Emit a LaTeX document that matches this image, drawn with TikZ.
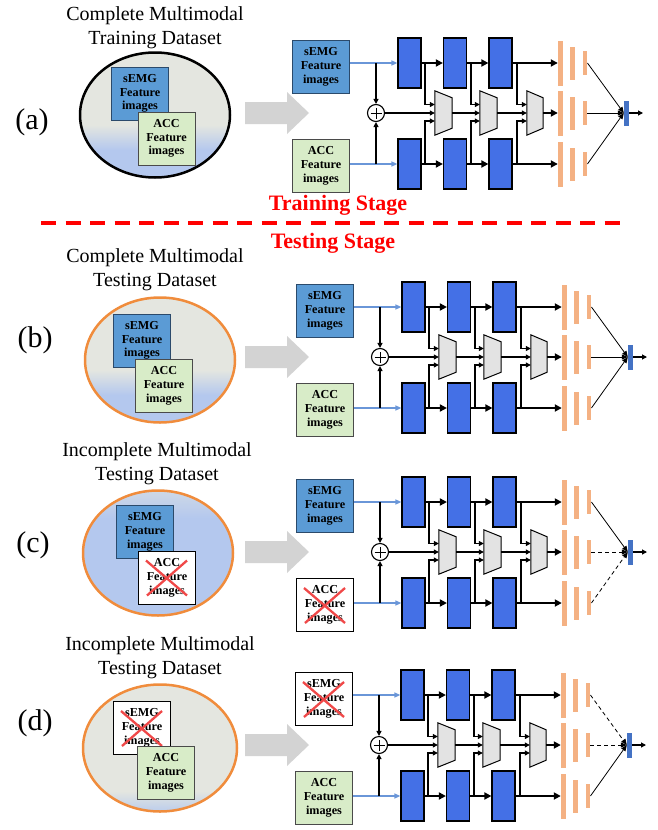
\documentclass[tikz,border=0pt]{standalone}
\usepackage{fontspec}
\setmainfont{Liberation Serif}
\usetikzlibrary{arrows.meta,shapes.geometric}
\definecolor{semgblue}{HTML}{5B9BD5}
\definecolor{semgedge}{HTML}{2B4A6B}
\definecolor{accgreen}{HTML}{D8ECC8}
\definecolor{accedge}{HTML}{4A4A4A}
\definecolor{blockblue}{HTML}{4470E6}
\definecolor{trapgray}{HTML}{E3E3E3}
\definecolor{barorange}{HTML}{F4B183}
\definecolor{finalblue}{HTML}{4472C4}
\definecolor{linkblue}{HTML}{6A96D8}
\definecolor{ellgray}{HTML}{E4E6E0}
\definecolor{ellblue}{HTML}{B4C8EE}
\definecolor{ellorange}{HTML}{F08C3C}
\definecolor{crossred}{HTML}{F04848}
\definecolor{arrowgray}{HTML}{D3D3D3}
\pgfdeclareverticalshading{shA}{100bp}{color(0bp)=(ellblue); color(36bp)=(ellblue); color(46bp)=(ellgray); color(100bp)=(ellgray)}
\pgfdeclareverticalshading{shC}{100bp}{color(0bp)=(ellblue); color(64bp)=(ellblue); color(76bp)=(ellgray!60!ellblue); color(100bp)=(ellgray!60!ellblue)}
\pgfdeclareverticalshading{shD}{100bp}{color(0bp)=(ellblue!85!ellgray); color(25bp)=(ellblue!85!ellgray); color(33bp)=(ellgray); color(100bp)=(ellgray)}
\tikzset{
  inbox/.style={draw, line width=1pt, minimum width=57pt, minimum height=53pt, inner sep=0pt, align=center, font=\fontsize{12.2}{13.8}\selectfont\bfseries},
  semgbox/.style={inbox, fill=semgblue, draw=semgedge},
  accbox/.style={inbox, fill=accgreen, draw=accedge},
  crossbox/.style={inbox, fill=white, draw=black},
  xline/.style={crossred, line width=2.3pt},
  blk/.style={draw=black, line width=1.2pt, fill=blockblue, minimum width=23pt, minimum height=50pt, inner sep=0pt},
  trapbox/.style={minimum height=44pt, inner sep=0pt},
  trapst/.style={draw=black, line width=1pt, fill=trapgray},
  sumc/.style={circle, draw=black, line width=1.1pt, fill=white, minimum size=17pt, inner sep=0pt,
     path picture={\draw[line width=1pt] ([xshift=-5.5pt]path picture bounding box.center) -- ([xshift=5.5pt]path picture bounding box.center);
                   \draw[line width=1pt] ([yshift=-5.5pt]path picture bounding box.center) -- ([yshift=5.5pt]path picture bounding box.center);}},
  bar/.style={fill=barorange, inner sep=0pt},
  finbar/.style={fill=finalblue, minimum width=5pt, minimum height=25pt, inner sep=0pt},
  cn/.style={draw=black, line width=1.1pt, -{Triangle[length=5pt,width=5pt]}},
  thk/.style={draw=black, line width=2pt, -{Triangle[length=7pt,width=7pt]}},
  inln/.style={draw=linkblue, line width=1.3pt, -{Triangle[length=6pt,width=5pt]}},
  dg/.style={draw=black, line width=0.8pt, -{Triangle[length=6pt,width=5pt]}},
  dsh/.style={dash pattern=on 4pt off 3pt},
  sld/.style={},
  title/.style={align=center, font=\fontsize{20}{24}\selectfont},
  plabel/.style={font=\fontsize{30}{30}\selectfont},
  stage/.style={text=red, font=\fontsize{22}{24}\selectfont\bfseries},
  ell/.style={ellipse, line width=2.5pt, minimum width=150pt, minimum height=125pt, inner sep=0pt},
  bigarrow/.style={fill=arrowgray}
}
\newcommand\xmark[1]{%
  \draw[xline] ([shift={(8,10)}]#1.north west) -- ([shift={(-9,-9)}]#1.south east);
  \draw[xline] ([shift={(-9,10)}]#1.north east) -- ([shift={(9,-9)}]#1.south west);}
\newcommand\grayarrow[1]{%
  \fill[bigarrow] (245,#1-11) -- (287,#1-11) -- (287,#1-21) -- (309,#1) -- (287,#1+21) -- (287,#1+11) -- (245,#1+11) -- cycle;}
\newcommand\netpanel[8]{%
\begin{scope}[shift={(#1,#2)}]
  \node[#4] (#3se) at (29,26) {sEMG\\Feature\\images};
  \node[#5] (#3ac) at (29,125) {ACC\\Feature\\images};
  \foreach \i/\x in {1/117.5,2/163,3/208.5}{
    \node[blk] (#3t\i) at (\x,22) {};
    \node[blk] (#3b\i) at (\x,123) {};}
  \node[sumc] (#3sum) at (84,72) {};
  \node[trapbox, minimum width=17pt] (#3m1) at (151.5,72) {};
  \node[trapbox, minimum width=17pt] (#3m2) at (196.5,72) {};
  \node[trapbox, minimum width=16pt] (#3m3) at (243,72) {};
  \foreach \i in {1,2,3}{
    \draw[trapst] (#3m\i.north west) -- ([yshift=-7pt]#3m\i.north east) -- ([yshift=7pt]#3m\i.south east) -- (#3m\i.south west) -- cycle;}
  \foreach \g/\y in {1/22,2/72,3/123}{
    \node[bar, minimum width=5pt, minimum height=45pt] (#3ga\g) at (268.5,\y) {};
    \node[bar, minimum width=5pt, minimum height=33pt] (#3gb\g) at (280.5,\y) {};
    \node[bar, minimum width=4.5pt, minimum height=24pt] (#3gc\g) at (293,\y) {};}
  \node[finbar] (#3fin) at (334.5,72) {};
  \coordinate (#3out) at (351,72);
  \coordinate (#3j1) at (84,22);
  \coordinate (#3j2) at (84,123);
  \foreach \i/\v in {1/133,2/179,3/225}{
    \coordinate (#3vt\i) at (\v,22);
    \coordinate (#3vb\i) at (\v,123);}
  \draw[inln] (#3se.east |- #3t1) -- (#3t1.west);
  \draw[inln] (#3ac.east |- #3b1) -- (#3b1.west);
  \draw[cn] (#3j1) -- (#3sum.north);
  \draw[cn] (#3j2) -- (#3sum.south);
  \draw[cn] (#3sum.east) -- (#3m1.west);
  \draw[cn] (#3m1.east) -- (#3m2.west);
  \draw[cn] (#3m2.east) -- (#3m3.west);
  \draw[thk] (#3m3.east) -- (#3ga2.west);
  \draw[thk] (#3t1.east) -- (#3t2.west);
  \draw[thk] (#3t2.east) -- (#3t3.west);
  \draw[thk] (#3t3.east) -- (#3ga1.west);
  \draw[thk] (#3b1.east) -- (#3b2.west);
  \draw[thk] (#3b2.east) -- (#3b3.west);
  \draw[thk] (#3b3.east) -- (#3ga3.west);
  \foreach \i in {1,2,3}{
    \draw[cn] (#3vt\i) |- ([yshift=8.5pt]#3m\i.west);
    \draw[cn] (#3vb\i) |- ([yshift=-8pt]#3m\i.west);}
  \draw[dg,#6] (#3gc1.east) -- (#3fin.west);
  \draw[dg,#7] (#3gc2.east) -- (#3fin.west);
  \draw[dg,#8] (#3gc3.east) -- (#3fin.west);
  \draw[cn] (#3fin.east) -- (#3out);
\end{scope}}
\begin{document}
\begin{tikzpicture}[x=1pt,y=-1pt]
\useasboundingbox (0,0) rectangle (657,830);
% ---------- (a)
\node[title] (ta) at (155,28) {Complete Multimodal\\Training Dataset};
\node[plabel] (la) at (32,122) {(a)};
\node[ell, draw=black, shade, shading=shA] (ea) at (155,115) {};
\node[semgbox] (sa) at (140,93.5) {sEMG\\Feature\\images};
\node[accbox] (aa) at (166.5,138.5) {ACC\\Feature\\images};
\grayarrow{113}
\netpanel{292}{41}{A}{semgbox}{accbox}{sld}{sld}{sld}
% ---------- stages
\node[stage] (trs) at (338,205) {Training Stage};
\coordinate (dl1) at (41,223);
\coordinate (dl2) at (628,223);
\draw[red, line width=3.5pt, dash pattern=on 15pt off 9.5pt] (dl1) -- (dl2);
\node[stage] (tes) at (333,243) {Testing Stage};
% ---------- (b)
\node[title] (tb) at (155,270) {Complete Multimodal\\Testing Dataset};
\node[plabel] (lb) at (35,340) {(b)};
\node[ell, draw=ellorange, shade, shading=shA] (eb) at (160,360) {};
\node[semgbox] (sb) at (142,340.5) {sEMG\\Feature\\images};
\node[accbox] (ab) at (164,386) {ACC\\Feature\\images};
\grayarrow{357}
\netpanel{296}{285}{B}{semgbox}{accbox}{sld}{sld}{sld}
% ---------- (c)
\node[title] (tc) at (157,463.5) {Incomplete Multimodal\\Testing Dataset};
\node[plabel] (lc) at (33,545) {(c)};
\node[ell, draw=ellorange, shade, shading=shC] (ec) at (158,553) {};
\node[semgbox] (sc) at (145,532) {sEMG\\Feature\\images};
\node[crossbox] (ac) at (167,577.5) {ACC\\Feature\\images};
\xmark{ac}
\grayarrow{552}
\netpanel{296}{480}{C}{semgbox}{crossbox}{sld}{dsh}{dsh}
\xmark{Cac}
% ---------- (d)
\node[title] (td) at (160,657.5) {Incomplete Multimodal\\Testing Dataset};
\node[plabel] (ld) at (35,723) {(d)};
\node[ell, draw=ellorange, shade, shading=shD, minimum width=154pt, minimum height=127pt] (ed) at (160,748) {};
\node[crossbox] (sd) at (142,728) {sEMG\\Feature\\images};
\xmark{sd}
\node[accbox] (ad) at (166,773) {ACC\\Feature\\images};
\grayarrow{745}
\netpanel{295}{673}{D}{crossbox}{accbox}{dsh}{dsh}{sld}
\xmark{Dse}
\end{tikzpicture}
\end{document}
